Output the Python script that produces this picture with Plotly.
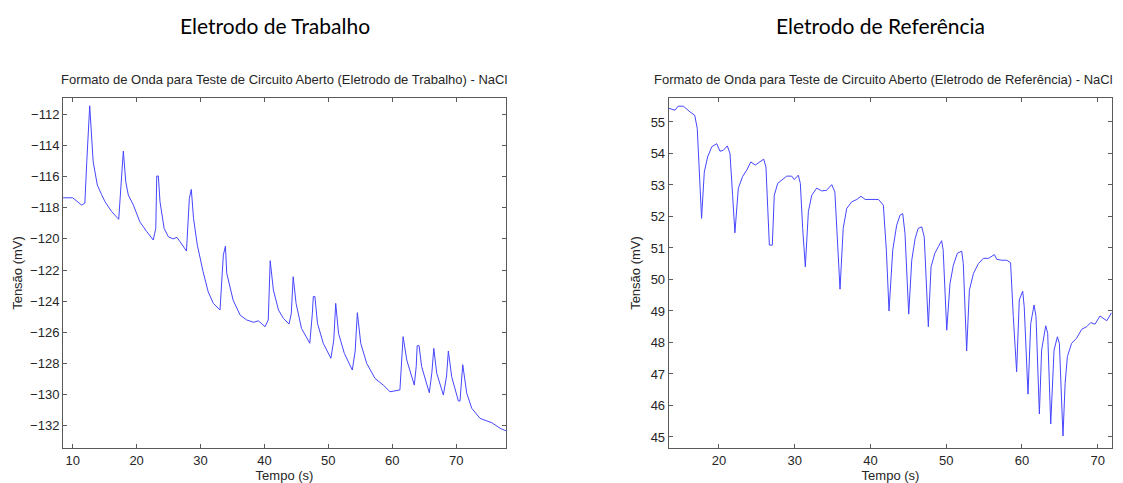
import plotly.graph_objects as go

# ---- Eletrodo de Trabalho (working electrode) ----
t_trab = [8.5, 10.0, 11.4, 11.9, 12.2, 12.66, 13.2, 13.85, 14.5, 15.05, 16.1, 17.2,
          17.56, 17.92, 18.3, 18.7, 19.5, 20.5, 21.6, 22.6,
          23.0, 23.15, 23.4, 23.66, 24.3, 24.96, 25.7, 26.3, 26.8, 27.8,
          28.25, 28.56, 28.9, 29.5, 30.4, 31.2, 32.0, 33.05,
          33.57, 33.9, 34.1, 35.1, 36.2, 37.2, 38.3, 39.05, 40.1,
          40.6, 40.9, 41.4, 42.2, 42.96, 43.85,
          44.2, 44.5, 44.95, 45.8, 46.6, 47.1,
          47.5, 47.65, 47.9, 48.3, 49.2, 50.4,
          50.85, 51.15, 51.6, 52.5, 53.75,
          54.2, 54.54, 55.07, 56.0, 57.3, 58.6, 59.65, 61.2,
          61.7, 62.27, 63.45,
          63.75, 63.9, 64.2, 64.6, 65.8,
          66.2, 66.5, 66.96, 68.0,
          68.5, 68.78, 69.3, 70.35, 70.6,
          71.03, 71.66, 72.44, 73.74, 75.6, 76.9, 77.9]
v_trab = [-117.36, -117.36, -117.83, -117.7, -115.04, -111.45, -115.04, -116.54, -117.14, -117.61, -118.25, -118.74,
          -116.54, -114.36, -116.33, -117.18, -117.83, -118.9, -119.54, -120.07,
          -119.32, -115.96, -115.96, -117.61, -119.32, -119.86, -120.0, -119.9, -120.18, -120.78,
          -117.4, -116.82, -118.68, -120.4, -122.1, -123.4, -124.14, -124.57,
          -121.04, -120.46, -122.2, -123.93, -124.9, -125.2, -125.36, -125.26, -125.64,
          -125.2, -121.4, -123.28, -124.57, -125.1, -125.47,
          -124.8, -122.43, -124.14, -125.75, -126.39, -126.7,
          -124.78, -123.7, -123.7, -125.42, -126.7, -127.67,
          -126.5, -124.14, -126.07, -127.35, -128.42,
          -127.2, -124.74, -126.7, -127.99, -128.96, -129.39, -129.82, -129.7,
          -126.28, -127.78, -129.39,
          -128.2, -126.86, -126.86, -128.2, -129.88,
          -128.6, -127.03, -128.63, -130.03,
          -128.8, -127.2, -128.85, -130.41, -130.41,
          -128.08, -129.92, -130.88, -131.53, -131.81, -132.17, -132.34]

# ---- Eletrodo de Referência (reference electrode) ----
t_ref = [13.3, 14.19, 14.6, 15.3, 16.17, 16.8, 17.13,
         17.4, 17.7, 18.06, 18.5, 19.04, 19.7, 20.13, 20.57, 21.1, 21.45,
         21.8, 22.1, 22.55, 23.1, 23.66, 24.2, 24.8, 25.4, 25.9, 26.2,
         26.5, 26.65, 27.04, 27.3, 27.75, 28.28, 28.94, 29.6, 29.94, 30.47, 30.74,
         31.05, 31.4, 31.8, 32.24, 32.9, 33.56, 34.2, 34.88, 35.3,
         35.67, 35.98, 36.4, 36.86, 37.5, 38.2, 38.75, 39.3, 41.05, 41.7,
         42.1, 42.45, 42.94, 43.46, 43.9, 44.26, 44.56,
         44.79, 45.05, 45.45, 45.9, 46.3, 46.77, 47.1,
         47.43, 47.64, 48.0, 48.5, 48.96, 49.4, 49.6,
         49.84, 50.07, 50.5, 50.94, 51.47, 52.05, 52.26,
         52.5, 52.7, 53.06, 53.6, 54.24, 54.9, 55.6, 56.0, 56.36, 56.67, 57.33, 58.0, 58.5,
         58.86, 59.3, 59.65, 60.1, 60.3,
         60.8, 61.16, 61.6, 61.86,
         62.3, 62.6, 63.14, 63.4,
         63.8, 64.24, 64.68, 64.94,
         65.25, 65.42, 65.7, 66.0, 66.55, 67.2, 67.9, 68.55, 69.08, 69.65, 70.3, 70.67, 71.2, 71.82]
v_ref = [55.44, 55.37, 55.5, 55.5, 55.32, 55.21, 54.79,
         53.52, 51.94, 53.41, 53.89, 54.21, 54.31, 54.07, 54.1, 54.24, 54.0,
         52.67, 51.48, 52.89, 53.26, 53.47, 53.73, 53.63, 53.75, 53.82, 53.57,
         52.15, 51.09, 51.09, 52.67, 53.05, 53.15, 53.28, 53.28, 53.17, 53.31, 53.05,
         51.62, 50.4, 52.15, 52.67, 52.9, 52.81, 52.83, 53.01, 52.78,
         51.09, 49.69, 51.62, 52.25, 52.46, 52.54, 52.64, 52.54, 52.54, 52.36,
         50.93, 49.0, 50.93, 51.72, 52.04, 52.09, 51.46,
         50.08, 48.9, 50.61, 51.3, 51.62, 51.67, 51.35,
         49.87, 48.5, 50.4, 50.83, 51.04, 51.23, 50.93,
         49.35, 48.39, 49.87, 50.45, 50.83, 50.9, 50.5,
         49.03, 47.73, 49.66, 50.19, 50.5, 50.67, 50.67, 50.72, 50.79, 50.64, 50.61, 50.61, 50.53,
         48.82, 47.07, 49.35, 49.63, 49.13,
         46.36, 48.6, 49.19, 48.82,
         45.73, 47.76, 48.53, 48.29,
         45.41, 47.76, 48.18, 47.97,
         46.17, 45.03, 46.7, 47.55, 47.97, 48.13, 48.42, 48.5, 48.63, 48.58, 48.84, 48.77, 48.69, 48.94]

x_ticks_trab = [10, 20, 30, 40, 50, 60, 70]
y_ticks_trab = [-132, -130, -128, -126, -124, -122, -120, -118, -116, -114, -112]
x_ticks_ref = [20, 30, 40, 50, 60, 70]
y_ticks_ref = [45, 46, 47, 48, 49, 50, 51, 52, 53, 54, 55]

main_titles = ["Eletrodo de Trabalho", "Eletrodo de Referência"]
sub_titles = ["Formato de Onda para Teste de Circuito Aberto (Eletrodo de Trabalho) - NaCl",
              "Formato de Onda para Teste de Circuito Aberto (Eletrodo de Referência) - NaCl"]
x_label = "Tempo (s)"
y_label = "Tensão (mV)"

W, H = 1123, 483
line_col = "#4646ff"
frame_col = "#5a5a5a"
txt_col = "#262626"
tick_font = dict(family="Liberation Sans, Arial, sans-serif", size=13, color=txt_col)

fig = go.Figure()
fig.add_trace(go.Scatter(x=t_trab, y=v_trab, mode="lines", line=dict(color=line_col, width=1),
                         xaxis="x", yaxis="y", showlegend=False))
fig.add_trace(go.Scatter(x=t_ref, y=v_ref, mode="lines", line=dict(color=line_col, width=1),
                         xaxis="x2", yaxis="y2", showlegend=False))

def ax(domain, rng, ticks, anchor, title, standoff):
    return dict(domain=domain, range=rng, tickvals=ticks, anchor=anchor, automargin=False,
                showline=True, mirror="ticks", linecolor=frame_col, linewidth=1,
                ticks="inside", ticklen=4, tickcolor=frame_col, tickwidth=1,
                showgrid=False, zeroline=False, tickfont=tick_font,
                title=dict(text=title, font=tick_font, standoff=standoff))

ydom = [1 - 448 / H, 1 - 98 / H]
fig.update_layout(
    width=W, height=H, margin=dict(l=0, r=0, t=0, b=0),
    paper_bgcolor="white", plot_bgcolor="white",
    xaxis=ax([63 / W, 506 / W], [8.48, 77.8], x_ticks_trab, "y", x_label, 1),
    yaxis=ax(ydom, [-133.43, -110.95], y_ticks_trab, "x", y_label, 4),
    xaxis2=ax([668.7 / W, 1112.3 / W], [13.36, 71.93], x_ticks_ref, "y2", x_label, 1),
    yaxis2=ax(ydom, [44.65, 55.76], y_ticks_ref, "x2", y_label, 7),
)

anns = []
for cx, t in zip([275, 880], main_titles):
    anns.append(dict(text=t, x=cx / W, y=1 - 26 / H, xref="paper", yref="paper",
                     xanchor="center", yanchor="middle", showarrow=False,
                     font=dict(family="Lato, Open Sans, sans-serif", size=21, color="#000000")))
for cx, t in zip([284, 883], sub_titles):
    anns.append(dict(text=t, x=cx / W, y=1 - 79 / H, xref="paper", yref="paper",
                     xanchor="center", yanchor="middle", showarrow=False,
                     font=tick_font))
fig.update_layout(annotations=anns)

fig.write_html("out.html", config={"displayModeBar": False},
               post_script="document.body.style.margin='0px';document.body.style.overflow='hidden';")
